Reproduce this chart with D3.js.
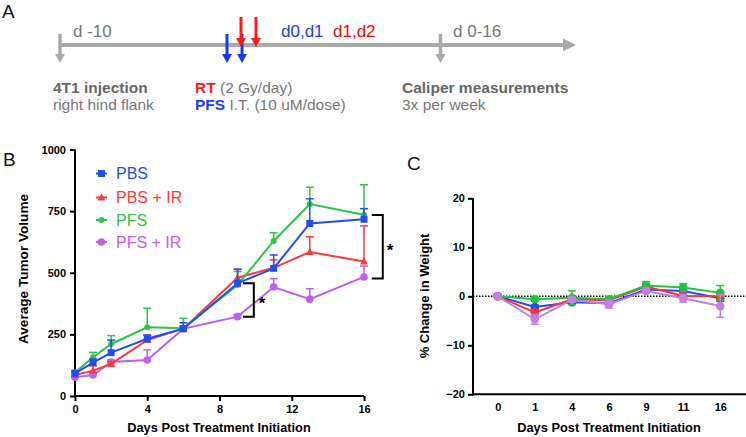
<!DOCTYPE html>
<html><head><meta charset="utf-8">
<script src="https://cdn.jsdelivr.net/npm/d3@7/dist/d3.min.js"></script>
<style>body{margin:0;background:#fff}svg{display:block;font-family:"Liberation Sans",Arial,sans-serif}</style>
</head><body><svg id="c" width="746" height="437"></svg>
<script>
// ---------- data ----------
const seriesNames = ["PBS", "PBS + IR", "PFS", "PFS + IR"];
const seriesColorsB = ["#1f4ff2", "#ff3838", "#2cc545", "#c05ef0"];
const seriesColorsC = ["#1f4ff2", "#ff3030", "#22c43c", "#c47fe4"];
const markerShapes = ["square", "triangle", "circleSmall", "circle"];

// Panel B: tumor volume
const daysB = [0, 1, 2, 4, 6, 9, 11, 13, 16];
const pbsVol = [92, 135, 176, 232, 273, 457, 518, 700, 717];
const pbsIrVol = [85, 103, 130, 227, 273, 480, 520, 584, 546];
const pfsVol = [95, 157, 211, 279, 275, 450, 629, 779, 735];
const pfsIrVol = [76, 85, 138, 146, 273, 322, 442, 393, 483];
const pbsVolErr = [10, 15, 51, 15, 24, 57, 54, 100, 43];
const pbsIrVolErr = [8, 20, 8, 20, 10, 34, 32, 62, 144];
const pfsVolErr = [8, 20, 34, 77, 40, 55, 33, 68, 122];
const pfsIrVolErr = [8, 10, 8, 41, 10, 8, 34, 42, 44];
const yTicksB = [0, 250, 500, 750, 1000];
const xTicksB = [0, 4, 8, 12, 16];
const sigBrackets = [
  {x0: 9.3, x1: 9.9, yTop: 457, yBot: 322, starX: 10.35},
  {x0: 16.43, x1: 17.04, yTop: 734, yBot: 477, starX: 17.44}
];

// Panel C: weight change
const daysC = ["0", "1", "4", "6", "9", "11", "16"];
const pbsWt = [0, -2.2, -1.2, -1.4, 1.4, 1.1, -0.4];
const pbsIrWt = [0, -3.3, -0.6, -0.8, 2.0, 0.05, 0];
const pfsWt = [0, -0.6, -0.3, -0.6, 2.2, 1.8, 0.7];
const pfsIrWt = [0, -4.7, -0.7, -1.6, 1.1, -0.4, -2.0];
const pbsWtErr = [0, 0.4, 0.4, 0.5, 0.4, 0.8, 0.6];
const pbsIrWtErr = [0, 0.5, 0.4, 0.4, 0.6, 0.5, 0.5];
const pfsWtErr = [0, 0.4, 1.4, 0.5, 0.8, 0.8, 1.5];
const pfsIrWtErr = [0, 1.0, 0.5, 0.8, 0.5, 0.8, 2.3];
const yTicksC = [-20, -10, 0, 10, 20];

// Panel A: timeline
const timelineDown = [{x: 60, color: "#a9a9a9"}, {x: 440.5, color: "#a9a9a9"}];
const pfsArrows = [227, 242];
const rtArrows = [241, 256];

// ---------- drawing ----------
const svg = d3.select("#c");
const font = '"Liberation Sans",Arial,sans-serif';

// Panel labels
[["A", 2, 18], ["B", 3, 166], ["C", 407, 170]].forEach(([t, x, y]) => {
  svg.append("text").attr("x", x).attr("y", y).attr("font-size", 19).attr("fill", "#111").text(t);
});

// ---- Panel A ----
const gA = svg.append("g");
const gray = "#a9a9a9";
gA.append("line").attr("x1", 60).attr("x2", 564).attr("y1", 45).attr("y2", 45)
  .attr("stroke", gray).attr("stroke-width", 4);
gA.append("path").attr("d", "M563,38.5 L576,45 L563,51.5 Z").attr("fill", gray);
function downArrow(x, y0, y1, color, w) {
  gA.append("line").attr("x1", x).attr("x2", x).attr("y1", y0).attr("y2", y1 - 8)
    .attr("stroke", color).attr("stroke-width", w);
  gA.append("path").attr("d", `M${x - 5},${y1 - 9} L${x + 5},${y1 - 9} L${x},${y1} Z`).attr("fill", color);
}
timelineDown.forEach(d => downArrow(d.x, 34, 63, d.color, 3.5));
pfsArrows.forEach(x => downArrow(x, 34, 63, "#1738f0", 3));
rtArrows.forEach(x => downArrow(x, 17, 47, "#ff1a1a", 3));

const aText = (x, y, parts, size) => {
  const t = gA.append("text").attr("x", x).attr("y", y).attr("font-size", size);
  parts.forEach(p => t.append("tspan").attr("fill", p.c).attr("font-weight", p.b ? "bold" : "normal").text(p.t));
};
aText(73, 37, [{t: "d -10", c: "#777"}], 17);
aText(453, 37, [{t: "d 0-16", c: "#777"}], 17);
aText(281, 37, [{t: "d0,d1", c: "#1a3cff"}], 17);
aText(333, 37, [{t: "d1,d2", c: "#ff0000"}], 17);
aText(53, 93, [{t: "4T1 injection", c: "#666", b: true}], 15.5);
aText(53, 110, [{t: "right hind flank", c: "#777"}], 15.5);
aText(195, 93, [{t: "RT", c: "#ff1a1a", b: true}, {t: " (2 Gy/day)", c: "#777"}], 15.5);
aText(195, 110, [{t: "PFS", c: "#1a3cff", b: true}, {t: " I.T. (10 uM/dose)", c: "#777"}], 15.5);
aText(402, 93, [{t: "Caliper measurements", c: "#666", b: true}], 15.5);
aText(402, 110, [{t: "3x per week", c: "#777"}], 15.5);

// marker helper
function marker(g, shape, x, y, color) {
  if (shape === "square") {
    const s = 7;
    g.append("rect").attr("x", x - s / 2).attr("y", y - s / 2).attr("width", s).attr("height", s).attr("fill", color);
  } else if (shape === "triangle") {
    g.append("path").attr("d", `M${x},${y - 4} L${x + 4},${y + 3} L${x - 4},${y + 3} Z`).attr("fill", color);
  } else if (shape === "circleSmall") {
    g.append("circle").attr("cx", x).attr("cy", y).attr("r", 3).attr("fill", color);
  } else {
    g.append("circle").attr("cx", x).attr("cy", y).attr("r", 3.8).attr("fill", color);
  }
}

// ---- Panel B ----
const xB = d3.scaleLinear().domain([0, 16]).range([75, 364]);
const yB = d3.scaleLinear().domain([0, 1000]).range([396, 149.5]);
const gB = svg.append("g");
const axB = gB.append("g").attr("transform", "translate(0,396)")
  .call(d3.axisBottom(xB).tickValues(xTicksB).tickFormat(d3.format("d")).tickSize(5).tickPadding(4).tickSizeOuter(0));
const ayB = gB.append("g").attr("transform", "translate(75,0)")
  .call(d3.axisLeft(yB).tickValues(yTicksB).tickFormat(d3.format("d")).tickSize(5).tickPadding(4).tickSizeOuter(0));
[axB, ayB].forEach(a => {
  a.select(".domain").attr("stroke", "#000").attr("stroke-width", 2);
  a.selectAll(".tick line").attr("stroke", "#000").attr("stroke-width", 2);
  a.selectAll(".tick text").attr("font-size", 11).attr("font-weight", "bold").attr("fill", "#000").attr("font-family", font);
});
axB.select(".domain").attr("d", "M74,0H364");
ayB.select(".domain").attr("d", "M0,149.5V397");
gB.append("text").attr("x", 219).attr("y", 432).attr("text-anchor", "middle")
  .attr("font-size", 12.8).attr("font-weight", "bold").text("Days Post Treatment Initiation");
gB.append("text").attr("transform", "translate(27.5,269) rotate(-90)").attr("text-anchor", "middle")
  .attr("font-size", 13.6).attr("font-weight", "bold").text("Average Tumor Volume");

const volSeries = [pbsVol, pbsIrVol, pfsVol, pfsIrVol];
const volErr = [pbsVolErr, pbsIrVolErr, pfsVolErr, pfsIrVolErr];
const orderB = [3, 1, 2, 0];
const lineB = d3.line().x((d, i) => xB(daysB[i])).y(d => yB(d));
orderB.forEach(si => {
  const col = seriesColorsB[si];
  const g = gB.append("g");
  volSeries[si].forEach((v, i) => {
    const x = xB(daysB[i]), yt = yB(v + volErr[si][i]);
    g.append("line").attr("x1", x).attr("x2", x).attr("y1", yB(v)).attr("y2", yt).attr("stroke", col).attr("stroke-width", 1.5);
    g.append("line").attr("x1", x - 4).attr("x2", x + 4).attr("y1", yt).attr("y2", yt).attr("stroke", col).attr("stroke-width", 1.5);
  });
  g.append("path").attr("d", lineB(volSeries[si])).attr("fill", "none").attr("stroke", col).attr("stroke-width", 2);
  volSeries[si].forEach((v, i) => marker(g, markerShapes[si], xB(daysB[i]), yB(v), col));
});
// significance brackets
sigBrackets.forEach(b => {
  gB.append("path").attr("d", `M${xB(b.x0)},${yB(b.yTop)} H${xB(b.x1)} V${yB(b.yBot)} H${xB(b.x0)}`)
    .attr("fill", "none").attr("stroke", "#000").attr("stroke-width", 2);
  gB.append("text").attr("x", xB(b.starX)).attr("y", (yB(b.yTop) + yB(b.yBot)) / 2 + 9)
    .attr("text-anchor", "middle").attr("font-size", 17).attr("font-weight", "bold").text("*");
});
// legend
seriesNames.forEach((n, i) => {
  const y = [173.5, 197.5, 220, 242][i];
  gB.append("line").attr("x1", 96).attr("x2", 107).attr("y1", y).attr("y2", y).attr("stroke", seriesColorsB[i]).attr("stroke-width", 2);
  marker(gB, markerShapes[i], 101.5, y, seriesColorsB[i]);
  gB.append("text").attr("x", 116).attr("y", y + 5.5).attr("font-size", 16).attr("fill", seriesColorsB[i]).text(n);
});

// ---- Panel C ----
const xC = d3.scalePoint().domain(daysC).range([473, 745]).padding(0.667);
const yC = d3.scaleLinear().domain([-20, 20]).range([394.3, 198.3]);
const gC = svg.append("g");
gC.append("line").attr("x1", 473).attr("x2", 746).attr("y1", yC(0)).attr("y2", yC(0))
  .attr("stroke", "#000").attr("stroke-width", 1.5).attr("stroke-dasharray", "1.5,1.5");
const axC = gC.append("g").attr("transform", "translate(0,394.3)")
  .call(d3.axisBottom(xC).tickSize(0).tickPadding(9).tickSizeOuter(0));
const ayC = gC.append("g").attr("transform", "translate(473,0)")
  .call(d3.axisLeft(yC).tickValues(yTicksC).tickSize(5).tickPadding(3).tickSizeOuter(0));
[axC, ayC].forEach(a => {
  a.select(".domain").attr("stroke", "#000").attr("stroke-width", 2);
  a.selectAll(".tick line").attr("stroke", "#000").attr("stroke-width", 2);
  a.selectAll(".tick text").attr("font-size", 11).attr("font-weight", "bold").attr("fill", "#000").attr("font-family", font);
});
axC.select(".domain").attr("d", "M472,0H746");
ayC.select(".domain").attr("d", "M0,198.3V395.3");
gC.append("text").attr("x", 609).attr("y", 432).attr("text-anchor", "middle")
  .attr("font-size", 12.8).attr("font-weight", "bold").text("Days Post Treatment Initiation");
gC.append("text").attr("transform", "translate(429,296) rotate(-90)").attr("text-anchor", "middle")
  .attr("font-size", 13).attr("font-weight", "bold").text("% Change in Weight");

const wtSeries = [pbsWt, pbsIrWt, pfsWt, pfsIrWt];
const wtErr = [pbsWtErr, pbsIrWtErr, pfsWtErr, pfsIrWtErr];
const lineC = d3.line().x((d, i) => xC(daysC[i])).y(d => yC(d));
[0, 1, 2, 3].forEach(si => {
  const col = seriesColorsC[si];
  const g = gC.append("g");
  wtSeries[si].forEach((v, i) => {
    const e = wtErr[si][i];
    if (e <= 0) return;
    const x = xC(daysC[i]);
    g.append("line").attr("x1", x).attr("x2", x).attr("y1", yC(v + e)).attr("y2", yC(v - e)).attr("stroke", col).attr("stroke-width", 1.5);
    [v + e, v - e].forEach(yy => g.append("line").attr("x1", x - 4).attr("x2", x + 4).attr("y1", yC(yy)).attr("y2", yC(yy)).attr("stroke", col).attr("stroke-width", 1.5));
  });
  g.append("path").attr("d", lineC(wtSeries[si])).attr("fill", "none").attr("stroke", col).attr("stroke-width", 2);
  wtSeries[si].forEach((v, i) => g.append("circle").attr("cx", xC(daysC[i])).attr("cy", yC(v)).attr("r", 4.3).attr("fill", col));
});
</script></body></html>
